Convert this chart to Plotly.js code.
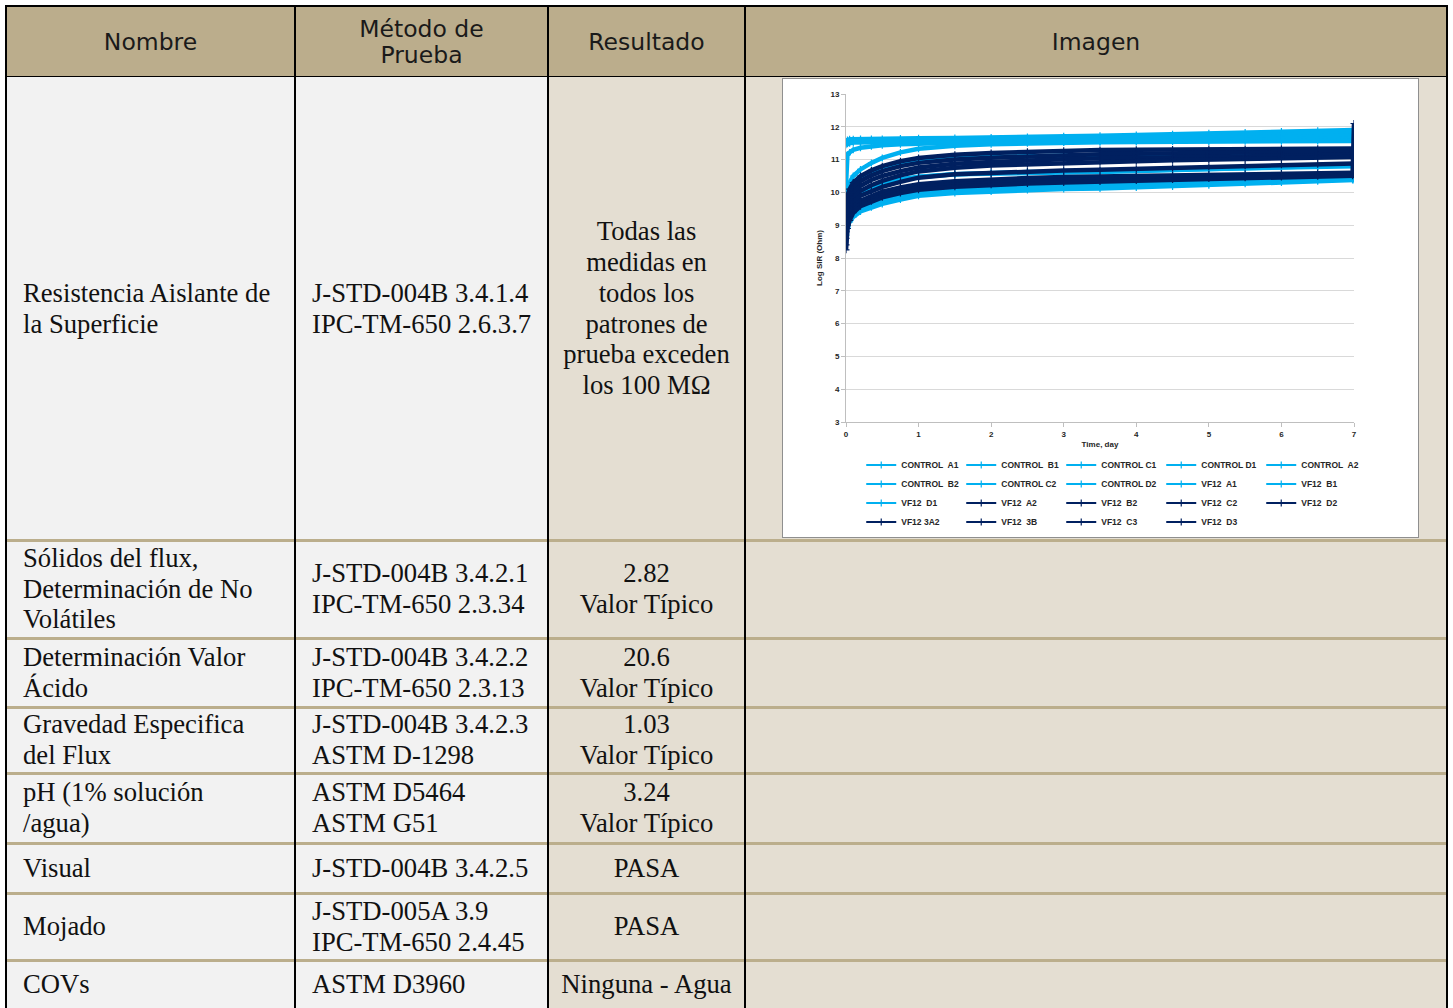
<!DOCTYPE html>
<html>
<head>
<meta charset="utf-8">
<script src="https://cdn.plot.ly/plotly-3.0.1.min.js"></script>
<style>
html,body{margin:0;padding:0;background:#ffffff;width:1453px;height:1008px;overflow:hidden;}
.cell{position:absolute;box-sizing:border-box;display:flex;align-items:center;}
.left{justify-content:flex-start;padding-left:17px;}
.center{justify-content:center;}
.txt{font-family:"Liberation Serif","Times New Roman",serif;font-size:26.67px;line-height:30.67px;color:#111;white-space:nowrap;}
.left .txt{text-align:left;}
.center .txt{text-align:center;}
.hd{font-family:"DejaVu Sans",Verdana,sans-serif;font-size:23.5px;line-height:26px;color:#1a1a1a;white-space:nowrap;text-align:center;}
.vl{position:absolute;background:#000;}
.hl{position:absolute;background:#BBAE8C;}
#chartbox{position:absolute;left:782px;top:78px;width:637px;height:460px;box-sizing:border-box;border:1px solid #8f8f8f;background:#fff;}
#chart{position:absolute;left:0;top:0;width:635px;height:458px;}
</style>
</head>
<body>
<div id="tbl"></div>
<div id="chartbox"><div id="chart"></div></div>
<script>
// ---------- table content ----------
const headers = ["Nombre", "Método de<br>Prueba", "Resultado", "Imagen"];
const nombres = [
  "Resistencia Aislante de<br>la Superficie",
  "Sólidos del flux,<br>Determinación de No<br>Volátiles",
  "Determinación Valor<br>Ácido",
  "Gravedad Especifica<br>del Flux",
  "pH (1% solución<br>/agua)",
  "Visual",
  "Mojado",
  "COVs"
];
const metodos = [
  "J-STD-004B 3.4.1.4<br>IPC-TM-650 2.6.3.7",
  "J-STD-004B 3.4.2.1<br>IPC-TM-650 2.3.34",
  "J-STD-004B 3.4.2.2<br>IPC-TM-650 2.3.13",
  "J-STD-004B 3.4.2.3<br>ASTM D-1298",
  "ASTM D5464<br>ASTM G51",
  "J-STD-004B 3.4.2.5",
  "J-STD-005A 3.9<br>IPC-TM-650 2.4.45",
  "ASTM D3960"
];
const resultados = [
  "Todas las<br>medidas en<br>todos los<br>patrones de<br>prueba exceden<br>los 100 MΩ",
  "2.82<br>Valor Típico",
  "20.6<br>Valor Típico",
  "1.03<br>Valor Típico",
  "3.24<br>Valor Típico",
  "PASA",
  "PASA",
  "Ninguna - Agua"
];

// ---------- chart data ----------
const days = [0, 0.02, 0.05, 0.1, 0.2, 0.35, 0.5, 0.75, 1, 1.5, 2, 2.5, 3, 3.5, 4, 4.5, 5, 5.5, 6, 6.5, 6.98, 7];
const controlA1 = [11.55, 11.6, 11.62, 11.62, 11.63, 11.63, 11.63, 11.64, 11.65, 11.66, 11.67, 11.69, 11.71, 11.73, 11.75, 11.77, 11.8, 11.83, 11.86, 11.88, 11.9, 11.9];
const controlB1 = [11.5, 11.54, 11.56, 11.57, 11.57, 11.57, 11.58, 11.58, 11.59, 11.6, 11.61, 11.63, 11.65, 11.67, 11.69, 11.71, 11.73, 11.75, 11.77, 11.78, 11.8, 11.8];
const controlC1 = [11.45, 11.48, 11.5, 11.52, 11.52, 11.52, 11.52, 11.53, 11.53, 11.54, 11.55, 11.56, 11.58, 11.6, 11.62, 11.64, 11.66, 11.68, 11.7, 11.72, 11.73, 11.73];
const controlD1 = [10.22, 11.15, 11.22, 11.3, 11.36, 11.41, 11.44, 11.47, 11.49, 11.51, 11.52, 11.53, 11.54, 11.56, 11.57, 11.58, 11.6, 11.62, 11.63, 11.64, 11.65, 11.65];
const controlA2 = [9.85, 10.15, 10.3, 10.5, 10.7, 10.9, 11.05, 11.22, 11.33, 11.42, 11.47, 11.5, 11.52, 11.53, 11.54, 11.55, 11.55, 11.56, 11.56, 11.57, 11.57, 11.57];
const controlB2 = [9.4, 9.8, 10.0, 10.2, 10.4, 10.57, 10.7, 10.85, 10.95, 11.04, 11.08, 11.11, 11.13, 11.14, 11.15, 11.16, 11.17, 11.17, 11.18, 11.18, 11.19, 11.19];
const controlC2 = [9.0, 9.35, 9.55, 9.75, 9.95, 10.1, 10.22, 10.36, 10.47, 10.55, 10.58, 10.6, 10.61, 10.62, 10.65, 10.68, 10.71, 10.74, 10.77, 10.8, 10.83, 10.83];
const controlD2 = [8.9, 9.1, 9.25, 9.4, 9.55, 9.7, 9.8, 9.92, 10.0, 10.08, 10.13, 10.17, 10.2, 10.22, 10.25, 10.28, 10.31, 10.34, 10.38, 10.42, 10.46, 10.46];
const vf12A1 = [8.8, 9.05, 9.2, 9.33, 9.48, 9.62, 9.72, 9.85, 9.95, 10.03, 10.08, 10.12, 10.15, 10.17, 10.2, 10.23, 10.26, 10.3, 10.34, 10.38, 10.42, 10.42];
const vf12B1 = [9.1, 9.45, 9.65, 9.85, 10.0, 10.15, 10.28, 10.4, 10.48, 10.55, 10.6, 10.62, 10.63, 10.65, 10.67, 10.7, 10.72, 10.75, 10.77, 10.79, 10.8, 10.8];
const vf12D1 = [8.7, 8.95, 9.1, 9.25, 9.42, 9.55, 9.65, 9.78, 9.9, 9.98, 10.03, 10.07, 10.1, 10.12, 10.15, 10.18, 10.22, 10.26, 10.3, 10.34, 10.38, 10.38];
const vf12A2 = [9.5, 9.9, 10.1, 10.3, 10.5, 10.67, 10.8, 10.95, 11.05, 11.15, 11.2, 11.24, 11.27, 11.29, 11.3, 11.31, 11.32, 11.32, 11.33, 11.33, 11.34, 11.34];
const vf12B2 = [9.35, 9.75, 9.95, 10.15, 10.35, 10.52, 10.65, 10.8, 10.9, 11.0, 11.06, 11.1, 11.13, 11.16, 11.18, 11.2, 11.21, 11.22, 11.23, 11.24, 11.25, 11.25];
const vf12C2 = [9.2, 9.6, 9.8, 10.0, 10.2, 10.38, 10.5, 10.65, 10.76, 10.87, 10.93, 10.98, 11.01, 11.04, 11.06, 11.08, 11.1, 11.11, 11.12, 11.13, 11.14, 11.14];
const vf12D2 = [9.05, 9.45, 9.65, 9.85, 10.05, 10.22, 10.35, 10.52, 10.64, 10.75, 10.82, 10.86, 10.89, 10.92, 10.95, 10.98, 11.0, 11.02, 11.04, 11.06, 11.08, 11.08];
const vf12_3A2 = [8.8, 9.3, 9.5, 9.7, 9.9, 10.05, 10.17, 10.32, 10.45, 10.55, 10.6, 10.64, 10.67, 10.69, 10.72, 10.75, 10.78, 10.81, 10.84, 10.86, 10.88, 10.88];
const vf12_3B = [8.6, 9.15, 9.35, 9.55, 9.75, 9.9, 10.02, 10.15, 10.25, 10.34, 10.4, 10.44, 10.47, 10.49, 10.51, 10.53, 10.55, 10.57, 10.58, 10.59, 10.6, 10.6];
const vf12C3 = [8.4, 9.0, 9.25, 9.45, 9.65, 9.8, 9.92, 10.05, 10.15, 10.24, 10.3, 10.34, 10.37, 10.4, 10.42, 10.44, 10.46, 10.48, 10.5, 10.52, 10.54, 10.54];
const vf12D3 = [8.25, 8.9, 9.15, 9.38, 9.58, 9.73, 9.85, 9.98, 10.08, 10.17, 10.23, 10.27, 10.3, 10.33, 10.36, 10.39, 10.42, 10.45, 10.47, 10.49, 10.51, 12.1];

const seriesNames = ["CONTROL  A1", "CONTROL  B1", "CONTROL C1", "CONTROL D1", "CONTROL  A2",
  "CONTROL  B2", "CONTROL C2", "CONTROL D2", "VF12  A1", "VF12  B1",
  "VF12  D1", "VF12  A2", "VF12  B2", "VF12  C2", "VF12  D2",
  "VF12 3A2", "VF12  3B", "VF12  C3", "VF12  D3"];
const seriesValues = [controlA1, controlB1, controlC1, controlD1, controlA2,
  controlB2, controlC2, controlD2, vf12A1, vf12B1,
  vf12D1, vf12A2, vf12B2, vf12C2, vf12D2,
  vf12_3A2, vf12_3B, vf12C3, vf12D3];

// ---------- build table ----------
const tbl = document.getElementById('tbl');
const colX = [6, 295, 548, 745, 1447];
const rowY = [6, 77, 540, 638, 707, 773, 843, 893, 960, 1008];
function box(cls, x, y, w, h, bg) {
  const d = document.createElement('div');
  d.className = cls;
  d.style.left = x + 'px'; d.style.top = y + 'px';
  d.style.width = w + 'px'; d.style.height = h + 'px';
  if (bg) d.style.background = bg;
  tbl.appendChild(d);
  return d;
}
const bodyBg = ['#F2F2F2', '#F2F2F2', '#E4DED2', '#E4DED2'];
for (let c = 0; c < 4; c++) {
  const h = box('cell center', colX[c], rowY[0], colX[c + 1] - colX[c], rowY[1] - rowY[0], '#BBAD8C');
  const s = document.createElement('div'); s.className = 'hd'; s.innerHTML = headers[c]; h.appendChild(s);
}
for (let r = 0; r < nombres.length; r++) {
  const y0 = rowY[r + 1], hh = rowY[r + 2] - y0;
  const texts = [nombres[r], metodos[r], resultados[r], null];
  const aligns = ['left', 'left', 'center', 'center'];
  for (let c = 0; c < 4; c++) {
    const cell = box('cell ' + aligns[c], colX[c], y0, colX[c + 1] - colX[c], hh, bodyBg[c]);
    if (texts[c]) {
      const s = document.createElement('div'); s.className = 'txt'; s.innerHTML = texts[c]; cell.appendChild(s);
    }
  }
}
for (let r = 2; r < rowY.length - 1; r++) box('hl', colX[0], rowY[r] - 1.5, colX[4] - colX[0], 3);
box('vl', colX[0], rowY[0] - 1, colX[4] - colX[0] + 1, 1.5);
box('vl', colX[0], rowY[1] - 1, colX[4] - colX[0] + 1, 1);
for (let c = 0; c < 5; c++) box('vl', colX[c] - 1, rowY[0] - 1, 2, rowY[rowY.length - 1] - rowY[0] + 1);

// ---------- chart ----------
const lightBlue = '#00B0F0', navy = '#002060';
const colorOf = i => (i < 11 ? lightBlue : navy);
const dataTraces = seriesValues.map((vals, i) => ({
  type: 'scatter', mode: 'lines+markers',
  x: days, y: vals,
  name: seriesNames[i], legendgroup: 'g' + i, showlegend: false,
  line: {color: colorOf(i), width: 4.5},
  marker: {symbol: 'cross-thin', size: 5, color: colorOf(i), line: {width: 1.2, color: colorOf(i)}}
}));
// legend keys: thin line with a small cross, as in the original legend
const legendTraces = seriesNames.map((nm, i) => ({
  type: 'scatter', mode: 'lines+markers',
  x: [null], y: [null],
  name: nm, legendgroup: 'g' + i, showlegend: true,
  line: {color: colorOf(i), width: 2},
  marker: {symbol: 'cross-thin', size: 5, color: colorOf(i), line: {width: 1.2, color: colorOf(i)}}
}));
const axFont = {family: 'Liberation Sans, Arial, sans-serif', size: 8, color: '#262626', weight: 'bold'};
const layout = {
  width: 635, height: 458,
  margin: {l: 63, r: 64, t: 15, b: 115, autoexpand: false},
  paper_bgcolor: '#ffffff', plot_bgcolor: '#ffffff',
  font: axFont,
  showlegend: true,
  xaxis: {
    range: [0, 7], tick0: 0, dtick: 1, showgrid: false, zeroline: false,
    showline: true, linecolor: '#BFBFBF', linewidth: 1,
    ticks: 'outside', ticklen: 4, tickcolor: '#BFBFBF',
    tickfont: axFont, automargin: false,
    title: {text: 'Time, day', font: axFont, standoff: 3}
  },
  yaxis: {
    range: [3, 13], tick0: 3, dtick: 1, showgrid: true, gridcolor: '#D9D9D9', gridwidth: 1,
    zeroline: false, showline: true, linecolor: '#BFBFBF', linewidth: 1,
    ticks: 'outside', ticklen: 4, tickcolor: '#BFBFBF',
    tickfont: axFont, automargin: false,
    title: {text: 'Log SIR (Ohm)', font: axFont, standoff: 6}
  },
  legend: {
    orientation: 'h', xanchor: 'left', yanchor: 'top',
    x: 0.03, y: -0.087,
    entrywidth: 55, entrywidthmode: 'pixels',
    traceorder: 'normal',
    bgcolor: 'rgba(0,0,0,0)',
    font: {family: 'Liberation Sans, Arial, sans-serif', size: 8.5, color: '#262626', weight: 'bold'}
  }
};
Plotly.newPlot('chart', dataTraces.concat(legendTraces), layout, {displayModeBar: false, staticPlot: true});
</script>
</body>
</html>
